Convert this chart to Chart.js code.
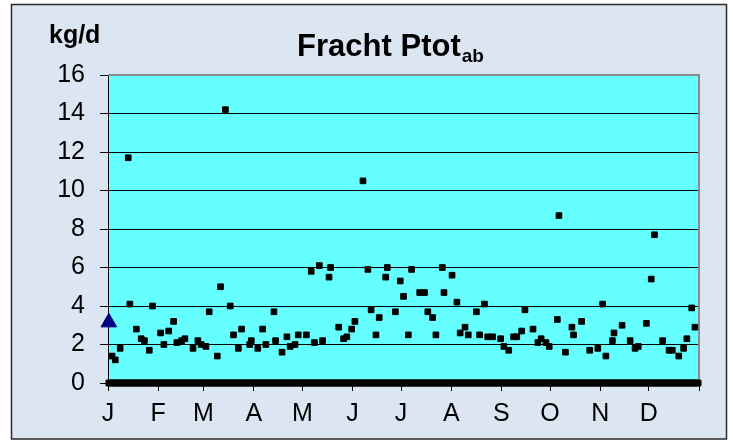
<!DOCTYPE html>
<html>
<head>
<meta charset="utf-8">
<script src="https://cdnjs.cloudflare.com/ajax/libs/Chart.js/4.4.1/chart.umd.min.js"></script>
<style>
  html, body { margin: 0; padding: 0; background: #fff; }
  canvas { display: block; }
</style>
</head>
<body>
<canvas id="c" width="733" height="443"></canvas>
<script>
// month boundaries (day of year) and their labels
const monthStarts = [0, 31, 59, 90, 120, 151, 181, 212, 243, 273, 304, 334, 365];
const monthLabels = ['J', 'F', 'M', 'A', 'M', 'J', 'J', 'A', 'S', 'O', 'N', 'D', ''];

// measured days (day of year, 1-based) and load in kg/d
const sampleDays = [
  3, 5, 8, 13, 14, 18, 21, 23, 26, 28, 33, 35, 38, 41, 43, 46, 48, 53, 56, 58,
  61, 63, 68, 70, 73, 76, 78, 81, 83, 88, 89, 93, 96, 98, 103, 104, 108, 111, 113, 116,
  118, 123, 126, 128, 131, 133, 137, 138, 143, 146, 148, 151, 153, 158, 161, 163, 166, 168, 172, 173,
  178, 181, 183, 186, 188, 193, 196, 198, 201, 203, 207, 208, 213, 216, 218, 221, 223, 228, 230, 233,
  235, 238, 243, 245, 248, 251, 253, 256, 258, 263, 266, 268, 271, 273, 278, 279, 283, 287, 288, 293,
  298, 303, 306, 308, 312, 313, 318, 323, 326, 328, 333, 336, 338, 343, 347, 349, 353, 356, 358, 361,
  363
];
const sampleLoads = [
  1.4, 1.2, 1.8, 11.7, 4.1, 2.8, 2.3, 2.2, 1.7, 4.0, 2.6, 2.0, 2.7, 3.2, 2.1, 2.2, 2.3, 1.8, 2.2, 2.0,
  1.9, 3.7, 1.4, 5.0, 14.2, 4.0, 2.5, 1.8, 2.8, 2.0, 2.2, 1.8, 2.8, 2.0, 3.7, 2.2, 1.6, 2.4, 1.9, 2.0,
  2.5, 2.5, 5.8, 2.1, 6.1, 2.2, 5.5, 6.0, 2.9, 2.3, 2.4, 2.8, 3.2, 10.5, 5.9, 3.8, 2.5, 3.4, 5.5, 6.0,
  3.7, 5.3, 4.5, 2.5, 5.9, 4.7, 4.7, 3.7, 3.4, 2.5, 6.0, 4.7, 5.6, 4.2, 2.6, 2.9, 2.5, 3.7, 2.5, 4.1,
  2.4, 2.4, 2.3, 1.9, 1.7, 2.4, 2.4, 2.7, 3.8, 2.8, 2.1, 2.3, 2.1, 1.9, 3.3, 8.7, 1.6, 2.9, 2.5, 3.2,
  1.7, 1.8, 4.1, 1.4, 2.2, 2.6, 3.0, 2.2, 1.8, 1.9, 3.1, 5.4, 7.7, 2.2, 1.7, 1.7, 1.4, 1.8, 2.3, 3.9,
  2.9
];

// reference marker (blue triangle at start of year)
const refDays = [1];
const refLoads = [3.15];

const DAYS_IN_YEAR = 365;
const FONT = "'Liberation Sans', Arial, sans-serif";

// each day sits in the middle of its slot
const toPoint = (d, v) => ({ x: d - 0.5, y: v });

const measured = sampleDays.map((d, i) => toPoint(d, sampleLoads[i]));
// the second series is 0 on every day of the year
const zeroRow = [];
for (let d = 1; d <= DAYS_IN_YEAR; d++) zeroRow.push(toPoint(d, 0));
const refPoints = refDays.map((d, i) => toPoint(d, refLoads[i]));

const framePlugin = {
  id: 'frame',
  beforeDraw(chart) {
    const { ctx, chartArea: a } = chart;
    ctx.save();
    ctx.fillStyle = '#ffffff';
    ctx.fillRect(0, 0, chart.width, chart.height);
    ctx.fillStyle = '#dce6f2';
    ctx.fillRect(11.5, 4.5, 715, 434.5);
    ctx.strokeStyle = '#2b2b2b';
    ctx.lineWidth = 1.5;
    ctx.strokeRect(11.5, 4.5, 715, 434.5);
    ctx.fillStyle = '#66ffff';
    ctx.fillRect(a.left, a.top, a.right - a.left, a.bottom - a.top);
    ctx.restore();
  },
  beforeDatasetsDraw(chart) {
    const { ctx, chartArea: a } = chart;
    ctx.save();
    ctx.strokeStyle = '#8c8c8c';
    ctx.lineWidth = 2;
    ctx.beginPath();
    ctx.moveTo(a.left, a.top);
    ctx.lineTo(a.right, a.top);
    ctx.lineTo(a.right, a.bottom);
    ctx.stroke();
    ctx.restore();
  },
  afterDraw(chart) {
    const { ctx } = chart;
    ctx.save();
    ctx.fillStyle = '#000';
    ctx.textBaseline = 'alphabetic';
    // unit label
    ctx.font = 'bold 25px ' + FONT;
    ctx.textAlign = 'left';
    ctx.fillText('kg/d', 49, 43);
    // title with subscript
    const main = 'Fracht Ptot', sub = 'ab';
    ctx.font = 'bold 31px ' + FONT;
    const wMain = ctx.measureText(main).width;
    ctx.font = 'bold 19px ' + FONT;
    const wSub = ctx.measureText(sub).width;
    const x0 = 390 - (wMain + wSub) / 2;
    ctx.font = 'bold 31px ' + FONT;
    ctx.fillText(main, x0, 56);
    ctx.font = 'bold 19px ' + FONT;
    ctx.fillText(sub, x0 + wMain + 1, 62);
    ctx.restore();
  }
};

new Chart(document.getElementById('c'), {
  type: 'scatter',
  data: {
    datasets: [
      {
        label: 'zero',
        data: zeroRow,
        pointStyle: 'rect',
        pointRadius: 4,
        backgroundColor: '#000',
        borderColor: '#000',
        borderWidth: 1,
        clip: false,
      },
      {
        label: 'Fracht Ptot ab',
        data: measured,
        pointStyle: 'rect',
        pointRadius: 4,
        backgroundColor: '#000',
        borderColor: '#000',
        borderWidth: 1,
        clip: false,
      },
      {
        label: 'Referenz',
        data: refPoints,
        pointStyle: 'triangle',
        pointRadius: 9,
        backgroundColor: '#000080',
        borderColor: '#000080',
        borderWidth: 1,
        clip: false,
      },
    ],
  },
  options: {
    responsive: false,
    devicePixelRatio: 1,
    animation: false,
    layout: { padding: { top: 75, right: 34, bottom: 0, left: 0 } },
    plugins: {
      legend: { display: false },
      tooltip: { enabled: false },
    },
    scales: {
      x: {
        type: 'linear',
        min: 0,
        max: DAYS_IN_YEAR,
        afterBuildTicks(scale) {
          scale.ticks = monthStarts.map(v => ({ value: v }));
        },
        afterFit(scale) { scale.height = 60; },
        ticks: {
          autoSkip: false,
          maxRotation: 0,
          padding: 8,
          color: '#000',
          font: { family: FONT, size: 25 },
          callback: (v, i) => monthLabels[i],
        },
        grid: {
          drawOnChartArea: false,
          drawTicks: true,
          tickLength: 8,
          color: '#000',
        },
        border: { color: '#000', width: 1 },
      },
      y: {
        min: 0,
        max: 16,
        afterFit(scale) { scale.width = 108; },
        ticks: {
          stepSize: 2,
          padding: 15,
          color: '#000',
          font: { family: FONT, size: 25 },
        },
        grid: {
          color: ctx => (ctx.tick && ctx.tick.value === 16 ? '#8c8c8c' : '#000'),
          lineWidth: 1,
          tickLength: 8,
          tickColor: '#000',
        },
        border: { color: '#000', width: 1 },
      },
    },
  },
  plugins: [framePlugin],
});
</script>
</body>
</html>
